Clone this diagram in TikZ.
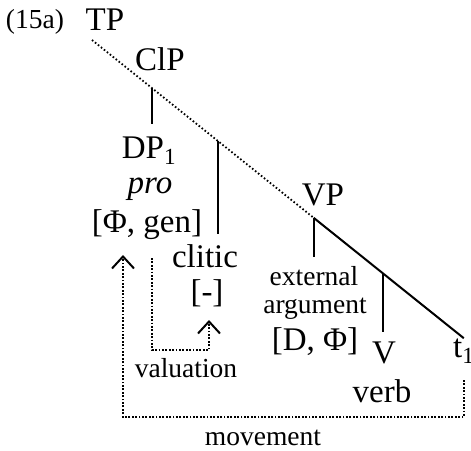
\documentclass[tikz,border=0pt]{standalone}
\usepackage{fontspec}
\setmainfont{Liberation Serif}
\usepackage{tikz}
\usetikzlibrary{arrows.meta,calc}

\begin{document}
\begin{tikzpicture}[x=1pt,y=-1pt,
    lbl/.style={inner sep=0pt,anchor=base,font=\fontsize{33}{36}\selectfont},
    small/.style={inner sep=0pt,anchor=base,font=\fontsize{27.5}{30}\selectfont},
    branch/.style={line width=2pt},
    spine/.style={line width=1.8pt,dash pattern=on 1.6pt off 2.2pt},
    link/.style={line width=2pt,dash pattern=on 1.8pt off 1.6pt,
      -{Straight Barb[length=12pt,width=22pt]}}]
  \useasboundingbox (0,0) rectangle (471,450);
  % Labels
  \node[small] (ex) at (35,28) {(15a)};
  \node[lbl] (tp) at (105,30) {TP};
  \node[lbl] (clp) at (160,70) {ClP};
  \node[lbl] (dp) at (149,158) {DP\textsubscript{1}};
  \node[lbl,font=\fontsize{33}{36}\selectfont\itshape] (pro) at (150,193) {pro};
  \node[lbl] (phigen) at (147,232) {[Φ, gen]};
  \node[lbl] (clitic) at (205,267) {clitic};
  \node[lbl] (clfeat) at (207,302) {[-]};
  \node[lbl] (vp) at (323,205) {VP};
  \node[small] (ext) at (314,285) {external};
  \node[small] (arg) at (315,313) {argument};
  \node[lbl] (dphi) at (315,350) {[D, Φ]};
  \node[lbl] (v) at (384,363) {V};
  \node[lbl] (verb) at (382,402) {verb};
  \node[lbl,anchor=base west] (t) at (453,357) {t\textsubscript{1}};
  \node[small] (val) at (186,377) {valuation};
  \node[small] (mov) at (263,445) {movement};
  % Spine
  \coordinate (start) at (92,40);
  \coordinate (b1) at ($(start)!0.1619!(t.north)$);
  \coordinate (b2) at ($(start)!0.3399!(t.north)$);
  \coordinate (b3) at ($(start)!0.5962!(t.north)$);
  \coordinate (b4) at ($(start)!0.7823!(t.north)$);
  \draw[spine] (start) -- (b3);
  \draw[branch] (b3) -- (t.north);
  % Branches
  \draw[branch,shorten >=12pt] (b1) -- (b1 |- dp.north);
  \draw[branch,shorten >=10pt] (b2) -- (b2 |- clitic.north);
  \draw[branch,shorten >=9pt] (b3) -- (b3 |- ext.north);
  \draw[branch,shorten >=9pt] (b4) -- (b4 |- v.north);
  % Valuation and movement
  \coordinate (valcorner) at (152,350);
  \coordinate (mvcorner) at (123,417);
  \draw[link] ([xshift=5pt,yshift=-26pt]phigen.base) -- (valcorner) -| ([xshift=2pt,yshift=-18pt]clfeat.base);
  \draw[link] ([yshift=-23pt]t.base) |- (mvcorner) -- ([yshift=-23pt]phigen.base -| mvcorner);
\end{tikzpicture}
\end{document}
